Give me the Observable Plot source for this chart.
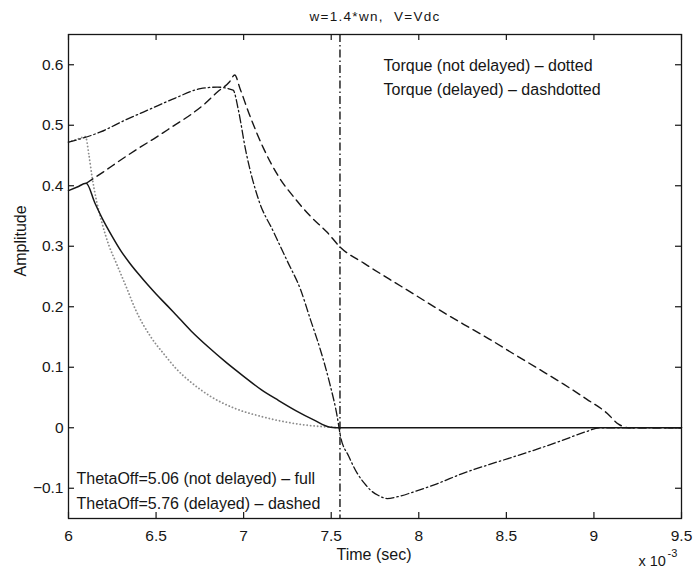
<!DOCTYPE html>
<html>
<head>
<meta charset="utf-8">
<script src="https://cdn.jsdelivr.net/npm/d3@7"></script>
<script src="https://cdn.jsdelivr.net/npm/@observablehq/plot@0.6"></script>
<style>
  html, body { margin: 0; padding: 0; background: #fff; }
  svg { display: block; }
</style>
</head>
<body>
<div id="chart"></div>
<script>
// ---- Data (time in units of 1e-3 s) ----
const xTicks = [6, 6.5, 7, 7.5, 8, 8.5, 9, 9.5];
const yTicks = [-0.1, 0, 0.1, 0.2, 0.3, 0.4, 0.5, 0.6];

// Current, ThetaOff=5.06 (not delayed) - full
const fullT = [6.0, 6.05, 6.101, 6.15, 6.20, 6.25, 6.30, 6.35, 6.40, 6.45, 6.50, 6.55, 6.60, 6.70, 6.80, 6.90, 7.00, 7.10, 7.20, 7.30, 7.40, 7.495, 7.55, 8.0, 8.5, 9.0, 9.5];
const fullA = [0.392, 0.398, 0.404, 0.372, 0.342, 0.316, 0.292, 0.272, 0.254, 0.237, 0.221, 0.206, 0.191, 0.160, 0.133, 0.108, 0.085, 0.063, 0.045, 0.028, 0.013, 0.001, 0, 0, 0, 0, 0];

// Current, ThetaOff=5.76 (delayed) - dashed
const dashedT = [6.101, 6.20, 6.30, 6.40, 6.50, 6.60, 6.70, 6.78, 6.85, 6.92, 6.949, 6.98, 7.03, 7.115, 7.20, 7.29, 7.38, 7.477, 7.553, 7.686, 7.83, 7.971, 8.11, 8.256, 8.40, 8.542, 8.68, 8.827, 8.96, 9.075, 9.14, 9.2, 9.5];
const dashedA = [0.404, 0.423, 0.443, 0.462, 0.480, 0.499, 0.518, 0.536, 0.555, 0.572, 0.583, 0.560, 0.520, 0.461, 0.415, 0.380, 0.350, 0.323, 0.298, 0.272, 0.246, 0.221, 0.196, 0.171, 0.147, 0.122, 0.098, 0.072, 0.047, 0.024, 0.006, 0, 0];

// Torque (not delayed) - dotted
const dottedT = [6.0, 6.05, 6.097, 6.116, 6.135, 6.16, 6.19, 6.23, 6.27, 6.335, 6.38, 6.468, 6.55, 6.62, 6.70, 6.81, 6.95, 7.096, 7.25, 7.40, 7.50, 7.55];
const dottedA = [0.472, 0.477, 0.481, 0.452, 0.414, 0.375, 0.340, 0.302, 0.274, 0.229, 0.197, 0.151, 0.120, 0.096, 0.075, 0.052, 0.032, 0.019, 0.009, 0.003, 0.001, 0];

// Torque (delayed) - dashdotted
const dashdotT = [6.0, 6.183, 6.32, 6.468, 6.61, 6.753, 6.85, 6.94, 6.97, 7.01, 7.084, 7.172, 7.25, 7.324, 7.38, 7.438, 7.49, 7.534, 7.553, 7.60, 7.648, 7.69, 7.724, 7.77, 7.819, 7.88, 7.971, 8.10, 8.256, 8.40, 8.542, 8.70, 8.827, 8.95, 9.037, 9.5];
const dashdotA = [0.472, 0.489, 0.508, 0.527, 0.545, 0.5605, 0.563, 0.558, 0.525, 0.461, 0.378, 0.323, 0.275, 0.229, 0.180, 0.129, 0.075, 0.019, -0.014, -0.047, -0.075, -0.092, -0.103, -0.112, -0.117, -0.114, -0.106, -0.093, -0.075, -0.061, -0.048, -0.033, -0.020, -0.007, 0, 0];

// Switching instant marker
const switchT = [7.55];

const titleText = ["w=1.4*wn,  V=Vdc"];
const xLabel = ["Time (sec)"];
const yLabel = ["Amplitude"];
const torqueNote = ["Torque (not delayed) – dotted\nTorque (delayed) – dashdotted"];
const thetaNote = ["ThetaOff=5.06 (not delayed) – full\nThetaOff=5.76 (delayed) – dashed"];
const scaleNote = ["x 10"];
const scaleExp = ["-3"];

const fmt = d3.format("~g");
const ink = "#161616";
const font = "'Liberation Sans', Arial, Helvetica, sans-serif";

const xDomain = [6, 9.5];
const yDomain = [-0.15, 0.65];
const W = 695, H = 569, ML = 68, MR = 14, MT = 34, MB = 51, TICK = 6;
const frameW = W - ML - MR, frameH = H - MT - MB;
// tick length expressed in data units of each scale
const tx = TICK * (xDomain[1] - xDomain[0]) / frameW;
const ty = TICK * (yDomain[1] - yDomain[0]) / frameH;

const tickStyle = {stroke: ink, strokeWidth: 1.2};

const chart = Plot.plot({
  width: W,
  height: H,
  marginLeft: ML,
  marginRight: MR,
  marginTop: MT,
  marginBottom: MB,
  x: {domain: xDomain},
  y: {domain: yDomain},
  style: {fontFamily: font, color: ink, background: "#fff"},
  marks: [
    // tick labels
    Plot.axisX(xTicks, {anchor: "bottom", tickSize: 0, tickPadding: 11, tickFormat: fmt, fontSize: 15.5, label: null}),
    Plot.axisY(yTicks, {anchor: "left", tickSize: 0, tickPadding: 5, tickFormat: fmt, fontSize: 15.5, label: null}),
    // inward ticks on all four sides
    Plot.ruleX(xTicks, {x: d => d, y1: yDomain[0], y2: yDomain[0] + ty, ...tickStyle}),
    Plot.ruleX(xTicks, {x: d => d, y1: yDomain[1], y2: yDomain[1] - ty, ...tickStyle}),
    Plot.ruleY(yTicks, {y: d => d, x1: xDomain[0], x2: xDomain[0] + tx, ...tickStyle}),
    Plot.ruleY(yTicks, {y: d => d, x1: xDomain[1], x2: xDomain[1] - tx, ...tickStyle}),
    // curves
    Plot.line(dottedT, {x: dottedT, y: dottedA, curve: "monotone-x", stroke: "#8c8c8c", strokeWidth: 1.8, strokeDasharray: "0.1,3.4", strokeLinecap: "round"}),
    Plot.line(fullT, {x: fullT, y: fullA, curve: "monotone-x", stroke: ink, strokeWidth: 1.5}),
    Plot.line(dashedT, {x: dashedT, y: dashedA, curve: "monotone-x", stroke: ink, strokeWidth: 1.4, strokeDasharray: "8,5"}),
    Plot.line(dashdotT, {x: dashdotT, y: dashdotA, curve: "monotone-x", stroke: ink, strokeWidth: 1.3, strokeDasharray: "8,3,1.5,3"}),
    Plot.ruleX(switchT, {x: d => d, stroke: ink, strokeWidth: 1.4, strokeDasharray: "8,3,1.5,3"}),
    // frame
    Plot.frame({stroke: ink, strokeWidth: 1.3}),
    // texts
    Plot.text(titleText, {text: d => d, frameAnchor: "top", dy: -13.5, lineAnchor: "bottom", fontSize: 13.5, fill: ink}),
    Plot.text(xLabel, {text: d => d, frameAnchor: "bottom", dy: 41, dx: -1, lineAnchor: "bottom", fontSize: 16, fill: ink}),
    Plot.text(yLabel, {text: d => d, frameAnchor: "left", dx: -48, rotate: -90, lineAnchor: "middle", fontSize: 16, fill: ink}),
    Plot.text(torqueNote, {text: d => d, frameAnchor: "top-left", dx: 315, dy: 60, textAnchor: "start", lineAnchor: "bottom", lineHeight: 1.45, fontSize: 16, fill: ink}),
    Plot.text(thetaNote, {text: d => d, frameAnchor: "bottom-left", dx: 8, dy: -10, textAnchor: "start", lineAnchor: "bottom", lineHeight: 1.56, fontSize: 16, fill: ink}),
    Plot.text(scaleNote, {text: d => d, frameAnchor: "bottom-right", dx: -43, dy: 47, textAnchor: "start", lineAnchor: "bottom", fontSize: 14.5, fill: ink}),
    Plot.text(scaleExp, {text: d => d, frameAnchor: "bottom-right", dx: -14, dy: 38, textAnchor: "start", lineAnchor: "bottom", fontSize: 11, fill: ink})
  ]
});

// spread title letters like the original print
chart.querySelectorAll("text").forEach(t => {
  if (t.textContent.startsWith("w=1.4")) t.setAttribute("letter-spacing", "1.3");
});

document.getElementById("chart").appendChild(chart);
</script>
</body>
</html>
